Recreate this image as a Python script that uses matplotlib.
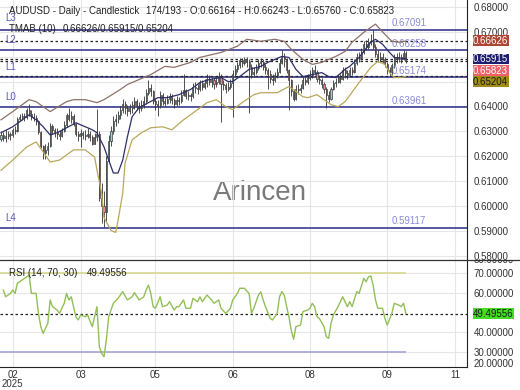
import matplotlib
matplotlib.use('Agg')
import matplotlib.pyplot as plt
import matplotlib.transforms as mtransforms
from matplotlib.lines import Line2D
import numpy as np

plt.rcParams['font.family'] = ['Liberation Sans', 'DejaVu Sans']

# daily candles, bar 0 .. 173
close = [
    0.6285, 0.6272, 0.6280, 0.6290, 0.6285, 0.6305, 0.6300, 0.6350, 0.6356, 0.6362,
    0.6358, 0.6385, 0.6370, 0.6358, 0.6352, 0.6340, 0.6295, 0.6240, 0.6212, 0.6225,
    0.6240, 0.6320, 0.6305, 0.6298, 0.6290, 0.6282, 0.6300, 0.6325, 0.6365, 0.6350,
    0.6362, 0.6330, 0.6290, 0.6280, 0.6292, 0.6285, 0.6280, 0.6290, 0.6275, 0.6250,
    0.6275, 0.6290, 0.6030, 0.6000, 0.5975, 0.6180, 0.6260, 0.6300, 0.6340, 0.6350,
    0.6365, 0.6385, 0.6410, 0.6395, 0.6380, 0.6392, 0.6405, 0.6420, 0.6400, 0.6395,
    0.6405, 0.6420, 0.6455, 0.6475, 0.6460, 0.6420, 0.6410, 0.6400, 0.6445, 0.6420,
    0.6415, 0.6430, 0.6440, 0.6425, 0.6410, 0.6425, 0.6420, 0.6445, 0.6465, 0.6440,
    0.6445, 0.6440, 0.6480, 0.6475, 0.6470, 0.6495, 0.6480, 0.6495, 0.6510, 0.6500,
    0.6505, 0.6490, 0.6500, 0.6520, 0.6490, 0.6485, 0.6470, 0.6480, 0.6495, 0.6530,
    0.6550, 0.6565, 0.6585, 0.6575, 0.6590, 0.6580, 0.6560, 0.6530, 0.6540, 0.6555,
    0.6575, 0.6580, 0.6560, 0.6545, 0.6530, 0.6510, 0.6505, 0.6525, 0.6540, 0.6575,
    0.6600, 0.6590, 0.6545, 0.6505, 0.6460, 0.6430, 0.6470, 0.6465, 0.6475, 0.6505,
    0.6500, 0.6515, 0.6525, 0.6545, 0.6540, 0.6510, 0.6505, 0.6490, 0.6470, 0.6445,
    0.6430, 0.6470, 0.6495, 0.6500, 0.6520, 0.6510, 0.6545, 0.6535, 0.6525, 0.6545,
    0.6540, 0.6575, 0.6600, 0.6595, 0.6620, 0.6650, 0.6640, 0.6660, 0.6665, 0.6640,
    0.6610, 0.6595, 0.6600, 0.6590, 0.6570, 0.6545, 0.6540, 0.6565, 0.6595, 0.6590,
    0.6600, 0.6590, 0.66164, 0.65823]
high = [
    0.6300, 0.6298, 0.6305, 0.6302, 0.6298, 0.6315, 0.6320, 0.6358, 0.6370, 0.6375,
    0.6372, 0.6395, 0.6410, 0.6385, 0.6372, 0.6365, 0.6345, 0.6300, 0.6245, 0.6250,
    0.6258, 0.6335, 0.6330, 0.6315, 0.6312, 0.6305, 0.6315, 0.6340, 0.6375, 0.6392,
    0.6380, 0.6368, 0.6335, 0.6300, 0.6310, 0.6300, 0.6305, 0.6312, 0.6300, 0.6285,
    0.6292, 0.6388, 0.6300, 0.6090, 0.6060, 0.6200, 0.6285, 0.6320, 0.6360, 0.6370,
    0.6380, 0.6400, 0.6428, 0.6420, 0.6405, 0.6410, 0.6420, 0.6438, 0.6430, 0.6418,
    0.6425, 0.6440, 0.6468, 0.6505, 0.6490, 0.6465, 0.6435, 0.6425, 0.6460, 0.6455,
    0.6435, 0.6445, 0.6455, 0.6450, 0.6432, 0.6440, 0.6438, 0.6465, 0.6530, 0.6470,
    0.6460, 0.6455, 0.6495, 0.6500, 0.6490, 0.6505, 0.6505, 0.6510, 0.6530, 0.6525,
    0.6520, 0.6515, 0.6520, 0.6540, 0.6530, 0.6505, 0.6495, 0.6500, 0.6510, 0.6545,
    0.6565, 0.6580, 0.6595, 0.6595, 0.6600, 0.6600, 0.6590, 0.6570, 0.6560, 0.6570,
    0.6590, 0.6595, 0.6590, 0.6570, 0.6555, 0.6545, 0.6530, 0.6540, 0.6555, 0.6590,
    0.6628, 0.6615, 0.6595, 0.6550, 0.6510, 0.6470, 0.6485, 0.6490, 0.6490, 0.6520,
    0.6520, 0.6530, 0.6545, 0.6560, 0.6568, 0.6548, 0.6525, 0.6515, 0.6500, 0.6480,
    0.6460, 0.6480, 0.6505, 0.6515, 0.6530, 0.6530, 0.6560, 0.6558, 0.6548, 0.6560,
    0.6560, 0.6590, 0.6615, 0.6620, 0.6635, 0.6665, 0.6668, 0.6675, 0.6690, 0.6709,
    0.6650, 0.6625, 0.6620, 0.6615, 0.6600, 0.6580, 0.6560, 0.6575, 0.6610, 0.6615,
    0.6618, 0.6612, 0.6625, 0.66243]
low = [
    0.6262, 0.6262, 0.6258, 0.6268, 0.6265, 0.6275, 0.6290, 0.6298, 0.6340, 0.6345,
    0.6342, 0.6350, 0.6360, 0.6345, 0.6340, 0.6325, 0.6288, 0.6232, 0.6190, 0.6187,
    0.6205, 0.6235, 0.6290, 0.6275, 0.6270, 0.6265, 0.6275, 0.6295, 0.6318, 0.6340,
    0.6335, 0.6320, 0.6282, 0.6262, 0.6235, 0.6268, 0.6265, 0.6272, 0.6262, 0.6245,
    0.6248, 0.6260, 0.6020, 0.5930, 0.5914, 0.5935, 0.6180, 0.6240, 0.6290, 0.6320,
    0.6335, 0.6350, 0.6375, 0.6370, 0.6360, 0.6368, 0.6375, 0.6390, 0.6385, 0.6375,
    0.6380, 0.6395, 0.6410, 0.6445, 0.6440, 0.6410, 0.6385, 0.6360, 0.6395, 0.6405,
    0.6400, 0.6408, 0.6415, 0.6410, 0.6395, 0.6400, 0.6405, 0.6415, 0.6440, 0.6430,
    0.6425, 0.6420, 0.6435, 0.6455, 0.6450, 0.6460, 0.6465, 0.6470, 0.6480, 0.6485,
    0.6480, 0.6470, 0.6480, 0.6490, 0.6338, 0.6465, 0.6455, 0.6460, 0.6470, 0.6358,
    0.6520, 0.6540, 0.6555, 0.6560, 0.6565, 0.6560, 0.6375, 0.6515, 0.6520, 0.6530,
    0.6545, 0.6560, 0.6545, 0.6530, 0.6468, 0.6495, 0.6485, 0.6500, 0.6515, 0.6535,
    0.6570, 0.6560, 0.6535, 0.6387, 0.6440, 0.6420, 0.6425, 0.6450, 0.6455, 0.6470,
    0.6485, 0.6490, 0.6505, 0.6515, 0.6525, 0.6500, 0.6490, 0.6475, 0.6455, 0.6395,
    0.6418, 0.6425, 0.6465, 0.6480, 0.6495, 0.6495, 0.6505, 0.6515, 0.6510, 0.6520,
    0.6525, 0.6535, 0.6565, 0.6580, 0.6585, 0.6610, 0.6625, 0.6630, 0.6645, 0.6630,
    0.6600, 0.6580, 0.6580, 0.6575, 0.6560, 0.6530, 0.6522, 0.6525, 0.6555, 0.6575,
    0.6580, 0.6575, 0.6585, 0.65760]
first_open = 0.6270
opens = [first_open] + close[:-1]

# TMAB (10) bands, read at sample bars
upper_bar = [0, 5, 12, 15, 18, 21, 28, 31, 36, 41, 44, 51, 54, 59, 64, 70, 74, 81, 85, 94,
             101, 105, 111, 117, 121, 124, 129, 133, 137, 143, 147, 150, 155, 160, 164, 167, 170, 173]
upper_val = [0.6346, 0.6379, 0.6427, 0.6419, 0.6399, 0.6379, 0.6419, 0.6427, 0.6427, 0.6415,
             0.6427, 0.6468, 0.6488, 0.6508, 0.6528, 0.6561, 0.6557, 0.6577, 0.6597, 0.6617,
             0.6642, 0.6670, 0.6662, 0.6670, 0.6662, 0.6630, 0.6589, 0.6569, 0.6577, 0.6601,
             0.6621, 0.6658, 0.6698, 0.6731, 0.6690, 0.6662, 0.6658, 0.66626]
mid_bar = [0, 5, 12, 15, 18, 21, 24, 28, 32, 36, 39, 41, 44, 46, 48, 50, 52, 54, 56, 59,
           63, 67, 71, 76, 81, 85, 89, 94, 97, 99, 102, 106, 111, 114, 120, 123, 126, 129, 133,
           137, 140, 143, 147, 149, 153, 158, 160, 163, 166, 168, 173]
mid_val = [0.6294, 0.6318, 0.6366, 0.6346, 0.6318, 0.6285, 0.6294, 0.6314, 0.6334, 0.6318,
           0.6306, 0.6294, 0.6237, 0.6184, 0.6132, 0.6132, 0.6184, 0.6277, 0.6358, 0.6395,
           0.6415, 0.6435, 0.6435, 0.6447, 0.6468, 0.6496, 0.6508, 0.6516, 0.6500, 0.6500,
           0.6520, 0.6549, 0.6561, 0.6577, 0.6601, 0.6597, 0.6549, 0.6520, 0.6528, 0.6536,
           0.6520, 0.6516, 0.6549, 0.6561, 0.6597, 0.6658, 0.6670, 0.6650, 0.6617, 0.6597,
           0.65915]
lower_bar = [0, 5, 11, 15, 18, 21, 25, 31, 36, 40, 41, 43, 44, 47, 49, 50, 52, 53, 56, 60,
             64, 69, 73, 78, 84, 88, 92, 96, 99, 103, 108, 111, 118, 123, 126, 129, 131, 135,
             138, 141, 144, 147, 153, 158, 161, 164, 166, 168, 171, 173]
lower_val = [0.6143, 0.6184, 0.6237, 0.6257, 0.6217, 0.6176, 0.6184, 0.6225, 0.6225, 0.6196,
             0.6144, 0.6051, 0.5953, 0.5901, 0.5893, 0.5941, 0.6051, 0.6172, 0.6265, 0.6294,
             0.6314, 0.6318, 0.6306, 0.6346, 0.6387, 0.6415, 0.6427, 0.6399, 0.6387, 0.6415,
             0.6447, 0.6455, 0.6455, 0.6480, 0.6460, 0.6439, 0.6435, 0.6447, 0.6427, 0.6407,
             0.6399, 0.6419, 0.6496, 0.6557, 0.6581, 0.6569, 0.6536, 0.6516, 0.6516, 0.65204]

# RSI (14), read at sample bars
rsi_bar = [1, 2, 4, 5, 6, 7, 9, 11, 12, 13, 15, 16, 17, 18, 20, 21, 22, 24, 25, 27,
           28, 29, 30, 32, 33, 34, 36, 37, 39, 40, 41, 42, 43, 44, 45, 46, 48, 50, 52, 54,
           56, 57, 59, 61, 62, 63, 64, 65, 66, 68, 69, 71, 72, 74, 75, 76, 78, 79, 81, 82,
           84, 85, 86, 88, 90, 91, 93, 94, 96, 98, 99, 101, 102, 104, 106, 107, 108, 110, 111, 112,
           113, 115, 116, 118, 119, 120, 121, 123, 124, 125, 126, 128, 129, 131, 132, 133, 134, 135, 136, 138,
           139, 140, 141, 142, 144, 146, 148, 149, 150, 152, 153, 155, 156, 157, 158, 159, 160, 161, 163, 164,
           165, 167, 168, 170, 171, 172, 173]
rsi_val = [61.4, 58.0, 59.7, 61.4, 59.7, 64.8, 66.5, 68.1, 69.0, 59.7, 59.7, 49.6, 42.9, 39.5, 44.6, 56.4, 53.0, 51.3, 49.6, 54.7,
           59.7, 56.4, 58.0, 47.9, 46.3, 48.8, 47.9, 48.8, 42.9, 47.9, 53.0, 32.8, 29.4, 27.7, 36.2, 47.9, 54.7, 57.2, 60.6, 56.4,
           58.0, 60.1, 56.4, 58.0, 61.4, 63.9, 59.7, 53.0, 52.2, 58.0, 53.0, 53.8, 55.5, 51.3, 53.0, 53.0, 56.4, 52.2, 52.2, 57.2,
           55.5, 58.0, 55.5, 58.9, 56.4, 54.7, 56.4, 52.2, 49.6, 52.2, 56.4, 59.7, 62.3, 62.3, 59.7, 49.6, 52.2, 58.9, 60.5, 56.4,
           53.0, 47.1, 46.3, 49.6, 58.0, 60.6, 58.9, 47.9, 41.2, 36.5, 42.9, 43.7, 50.5, 51.3, 52.2, 54.7, 53.0, 47.9, 47.1, 42.9,
           37.8, 37.0, 44.6, 48.8, 53.0, 58.0, 53.0, 55.5, 53.0, 60.6, 59.7, 67.3, 65.6, 68.1, 68.5, 63.9, 56.4, 52.2, 52.2, 47.1,
           43.7, 49.6, 54.7, 53.8, 53.0, 54.7, 49.5]
rsi_last = 49.49556

levels = ['L3', 'L2', 'L1', 'L0', 'L4']
level_vals = [0.67091, 0.66258, 0.65174, 0.63961, 0.59117]
tmab_now = [0.66626, 0.65915, 0.65204]

tick_pos = [5, 34, 66, 99, 132, 165, 194]
tick_labels = ['02\n2025', '03', '05', '06', '08', '09', '11']

W, H = 520, 390
fig = plt.figure(figsize=(5.2, 3.9), dpi=100)
ax = fig.add_axes([0, 130 / H, 467 / W, 260 / H])
ax2 = fig.add_axes([0, 23 / H, 467 / W, 107 / H])

x = np.arange(len(close))
xlim = (-0.43, 199.1)

# price panel
ax.set_xlim(xlim)
ax.set_ylim(0.5782, 0.6828)
pticks = [0.58, 0.59, 0.60, 0.61, 0.62, 0.63, 0.64, 0.65, 0.66, 0.67, 0.68]
ax.set_yticks(pticks)
ax.set_yticklabels(['' if t in (0.65, 0.66) else '%.5f' % t for t in pticks])
ax.yaxis.tick_right()
ax.tick_params(axis='y', length=0, pad=5, labelsize=7, labelcolor='#333333')
ax.set_xticks(tick_pos)
ax.tick_params(axis='x', length=0, labelbottom=False)
ax.grid(color='#e6e6e6', lw=0.8)
ax.set_axisbelow(True)
for s in ['top', 'left', 'bottom']:
    ax.spines[s].set_visible(False)
ax.spines['right'].set_color('#222222')

ax.text(260 / 467, 67 / 260, 'Arincen', transform=ax.transAxes, fontsize=20,
        color='#7a7a7a', ha='center', va='center', zorder=0)

up = np.array(close) >= np.array(opens)
ax.vlines(x, low, high, color='#333333', lw=0.6, zorder=3)
ax.bar(x, np.abs(np.array(close) - np.array(opens)), bottom=np.minimum(close, opens),
       width=0.45, color=np.where(up, '#8fd8cf', '#ef8a96'), edgecolor='#3a3a3a', lw=0.5, zorder=4)

ax.plot(upper_bar, upper_val, color='#8e7168', lw=0.9, zorder=5)
ax.plot(mid_bar, mid_val, color='#2e2e66', lw=0.9, zorder=5)
ax.plot(lower_bar, lower_val, color='#b8a85a', lw=0.9, zorder=5)

blend = mtransforms.blended_transform_factory(ax.transAxes, ax.transData)
for name, v in zip(levels, level_vals):
    ax.axhline(v, color='#2b2b84', lw=1.1, zorder=2)
    dy = 8.3 if name == 'L3' else 7.2
    ax.annotate(name, xy=(5 / 467, v), xycoords=blend, xytext=(0, dy), textcoords='offset points',
                va='center', ha='left', fontsize=7, color='#5a5ab4')
    ax.annotate('%.5f' % v, xy=(392 / 467, v), xycoords=blend, xytext=(0, 4.7),
                textcoords='offset points', va='center', ha='left', fontsize=7, color='#8a8ad8')

for v in tmab_now + [close[-1]]:
    ax.axhline(v, color='#222222', lw=0.9, ls=(0, (2, 2)), zorder=2)

box_vals = [tmab_now[0], tmab_now[1], close[-1], tmab_now[2]]
box_fc = ['#ab4634', '#1e1e6e', '#ef6068', '#a08c16']
box_tc = ['white', 'white', 'white', '#1a1a1a']
box_dy = [0.4, -0.2, -7.0, -3.8]
for v, fc, tc, dy in zip(box_vals, box_fc, box_tc, box_dy):
    ax.annotate('%.5f' % v, xy=(1, v), xycoords=blend, xytext=(4.4, dy), textcoords='offset points',
                va='center', ha='left', fontsize=7, color=tc, annotation_clip=False,
                bbox=dict(boxstyle='square,pad=0.04', fc=fc, ec='none'))

fig.text(9 / W, 1 - 11 / H, 'AUDUSD - Daily - Candlestick', fontsize=7, color='#222222', va='center')
fig.text(146 / W, 1 - 11 / H, '174/193 - O:%.5f - H:%.5f - L:%.5f - C:%.5f'
         % (opens[-1], high[-1], low[-1], close[-1]), fontsize=7, color='#222222', va='center')
fig.text(9 / W, 1 - 29.5 / H, 'TMAB (10)', fontsize=7, color='#222222', va='center')
fig.text(63 / W, 1 - 29.5 / H, '%.5f/%.5f/%.5f' % tuple(tmab_now), fontsize=7, color='#222222', va='center')

# RSI panel
ax2.set_xlim(xlim)
ax2.set_ylim(22.5, 76.6)
ax2.set_yticks([30, 40, 60, 70])
ax2.set_yticklabels(['%.5f' % t for t in [30, 40, 60, 70]])
ax2.yaxis.tick_right()
ax2.tick_params(axis='y', length=0, pad=5, labelsize=7, labelcolor='#333333')
ax2.set_xticks(tick_pos)
ax2.set_xticklabels(tick_labels, linespacing=0.85)
ax2.tick_params(axis='x', length=0, pad=2, labelsize=7, labelcolor='#333333')
ax2.grid(color='#e6e6e6', lw=0.8)
ax2.set_axisbelow(True)
for s in ['top', 'left']:
    ax2.spines[s].set_visible(False)
ax2.spines['right'].set_color('#222222')
ax2.spines['bottom'].set_color('#222222')

ax2.hlines(70, xlim[0], len(close) - 1, color='#d8d890', lw=1.2)
ax2.hlines(30, xlim[0], len(close) - 1, color='#a4a4d8', lw=1.2)
ax2.axhline(rsi_last, color='#222222', lw=0.9, ls=(0, (2, 2)))
ax2.plot(rsi_bar, rsi_val, color='#92c056', lw=1.0)

blend2 = mtransforms.blended_transform_factory(ax2.transAxes, ax2.transData)
ax2.annotate('%.5f' % rsi_last, xy=(1, rsi_last), xycoords=blend2, xytext=(4.4, 0),
             textcoords='offset points', va='center', ha='left', fontsize=7, color='#1a1a1a',
             annotation_clip=False, bbox=dict(boxstyle='square,pad=0.04', fc='#44dd22', ec='none'))
ax2.annotate('20.00000', xy=(1, 24), xycoords=blend2, xytext=(5, 0), textcoords='offset points',
             va='center', ha='left', fontsize=7, color='#333333', annotation_clip=False)
t80 = ax2.annotate('80.00000', xy=(1, 76.4), xycoords=blend2, xytext=(5, 0), textcoords='offset points',
                   va='center', ha='left', fontsize=7, color='#333333', annotation_clip=False)
t80.set_clip_box(mtransforms.TransformedBbox(mtransforms.Bbox([[0.85, 0], [1, 130 / H]]), fig.transFigure))
t80.set_clip_on(True)

fig.text(9 / W, 1 - 273 / H, 'RSI (14, 70, 30)', fontsize=7, color='#222222', va='center')
fig.text(87 / W, 1 - 273 / H, '%.5f' % rsi_last, fontsize=7, color='#222222', va='center')

fig.add_artist(Line2D([0, 1], [130 / H, 130 / H], color='#333333', lw=0.9))

fig.savefig('out.png', dpi=100)
